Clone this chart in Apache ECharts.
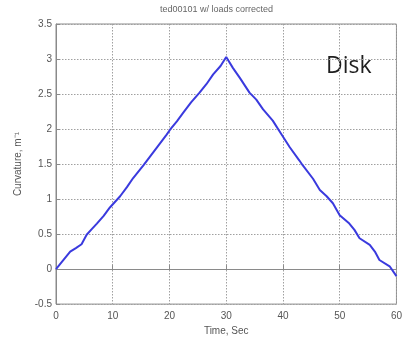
<!DOCTYPE html>
<html>
<head>
<meta charset="utf-8">
<script src="https://cdn.jsdelivr.net/npm/echarts@6/dist/echarts.min.js"></script>
<style>
  html, body { margin: 0; padding: 0; background: #fff; }
  #chart { width: 405px; height: 341px; }
</style>
</head>
<body>
<div id="chart"></div>
<script>
// Time (s) and measured curvature (1/m) for run ted00101
const timeSec = [0, 1, 2.5, 3.5, 4.5, 5.4, 6.3, 7.2, 8.4, 9.5, 11.3, 12.5, 13.6, 15.4, 16.5, 18, 19.5, 20.1, 21.3, 22.4, 23.8, 25.3, 26.5, 27.7, 29, 30,
  31.2, 32.4, 34.1, 35.3, 36.5, 38.2, 39.7, 41.2, 42.9, 43.5, 45.3, 46.5, 47.7, 48.8, 50, 51.7, 52.6, 53.5, 55.3, 56.2, 57, 58.8, 60];
const curvature = [0, 0.1, 0.25, 0.3, 0.355, 0.49, 0.57, 0.65, 0.76, 0.88, 1.04, 1.17, 1.3, 1.48, 1.6, 1.76, 1.92, 1.99, 2.11, 2.23, 2.38, 2.52, 2.64, 2.78, 2.9, 3.03,
  2.87, 2.73, 2.52, 2.42, 2.28, 2.12, 1.93, 1.74, 1.55, 1.48, 1.29, 1.13, 1.04, 0.94, 0.77, 0.65, 0.56, 0.44, 0.345, 0.25, 0.13, 0.04, -0.1];
const xTicks = [0, 10, 20, 30, 40, 50, 60];
const yTicks = [-0.5, 0, 0.5, 1, 1.5, 2, 2.5, 3, 3.5];

const points = timeSec.map((t, i) => [t, curvature[i]]);
const chart = echarts.init(document.getElementById('chart'), null, { renderer: 'canvas' });

const axisFont = { fontFamily: 'Liberation Sans', fontSize: 10, color: '#555' };

chart.setOption({
  animation: false,
  backgroundColor: '#fff',
  grid: { left: 56, right: 8, top: 24, bottom: 35, show: true, borderColor: '#8a8a8a', borderWidth: 1 },
  graphic: [
    { type: 'text', left: 226 - 66, top: 5,
      style: { text: 'ted00101 w/ loads corrected', font: '9px "Liberation Sans"', fill: '#666' } },
    { type: 'text', left: 326, top: 55,
      style: { text: 'Disk', font: '23px "Open Sans"', fill: '#1e1e1e' } }
  ],
  xAxis: {
    type: 'value', min: xTicks[0], max: xTicks[xTicks.length - 1], interval: 10,
    name: 'Time, Sec', nameLocation: 'middle', nameGap: 20,
    nameTextStyle: { fontFamily: 'Liberation Sans', fontSize: 10, color: '#555' },
    axisLine: { show: true, lineStyle: { color: '#8a8a8a' } },
    axisTick: { show: true, inside: true, length: 4, lineStyle: { color: '#8a8a8a' } },
    axisLabel: Object.assign({ margin: 7 }, axisFont),
    splitLine: { show: true, lineStyle: { color: '#a0a0a0', type: [1.5, 1.5], width: 1 } }
  },
  yAxis: {
    type: 'value', min: yTicks[0], max: yTicks[yTicks.length - 1], interval: 0.5,
    name: 'Curvature, m⁻¹', nameLocation: 'middle', nameGap: 33, nameRotate: 90,
    nameTextStyle: { fontFamily: 'Liberation Sans', fontSize: 10, color: '#555' },
    axisLine: { show: true, lineStyle: { color: '#8a8a8a' } },
    axisTick: { show: true, inside: true, length: 4, lineStyle: { color: '#8a8a8a' } },
    axisLabel: Object.assign({ margin: 4 }, axisFont),
    splitLine: { show: true, lineStyle: { color: '#a0a0a0', type: [1.5, 1.5], width: 1 } }
  },
  series: [{
    type: 'line',
    data: points,
    showSymbol: false,
    smooth: false,
    lineStyle: { color: '#3a3ade', width: 2 }
  }]
});
</script>
</body>
</html>
